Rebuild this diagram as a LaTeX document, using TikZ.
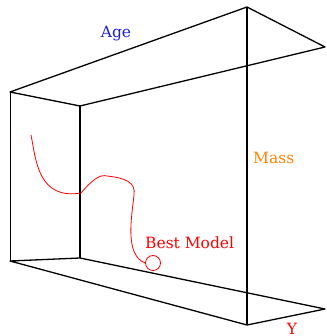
\documentclass[tikz,border=0pt]{standalone}
\usepackage{fontspec}
\setmainfont{DejaVu Serif}
\begin{document}
\begin{tikzpicture}[x=1pt,y=-1pt,
  edge/.style={draw=black,line width=1.3pt,line join=round},
  thinedge/.style={draw=black,line width=0.9pt},
  lbl/.style={inner sep=0pt,font=\fontsize{15.5}{18}\selectfont},
  curve/.style={draw=red,line width=0.8pt}]
\useasboundingbox (0,0) rectangle (326,336);
\coordinate (A) at (10,92);
\coordinate (B) at (80,106);
\coordinate (C) at (247,7);
\coordinate (D) at (325,47);
\coordinate (E) at (10,261);
\coordinate (F) at (80,258);
\coordinate (G) at (247,325);
\coordinate (H) at (325,309);
\draw[edge] (A) -- (C) -- (D) -- (B) -- cycle;
\draw[thinedge] (A) -- (E);
\draw[edge] (B) -- (F);
\draw[edge] (C) -- (G);
\draw[edge] (E) -- (F) -- (H) -- (G) -- cycle;
\node[lbl,text={rgb,255:red,30;green,30;blue,220}] (age) at (116,34) {Age};
\node[lbl,text={rgb,255:red,255;green,128;blue,0},anchor=west] (mass) at (253,158) {Mass};
\node[lbl,text=red,anchor=west] (best) at (145,243) {Best Model};
\node[lbl,text=red] (y) at (292,329) {Y};
\node[draw=red,line width=0.8pt,circle,minimum size=15pt,inner sep=0pt] (bm) at (153,263) {};
\coordinate (s) at (31,135);
\draw[curve] (s) .. controls (36,160) and (38,200) .. (81,193)
  .. controls (92,180) and (100,174) .. (107,176)
  .. controls (125,178) and (136,182) .. (134,195)
  .. controls (132,215) and (124,255) .. (bm.west);
\end{tikzpicture}
\end{document}
